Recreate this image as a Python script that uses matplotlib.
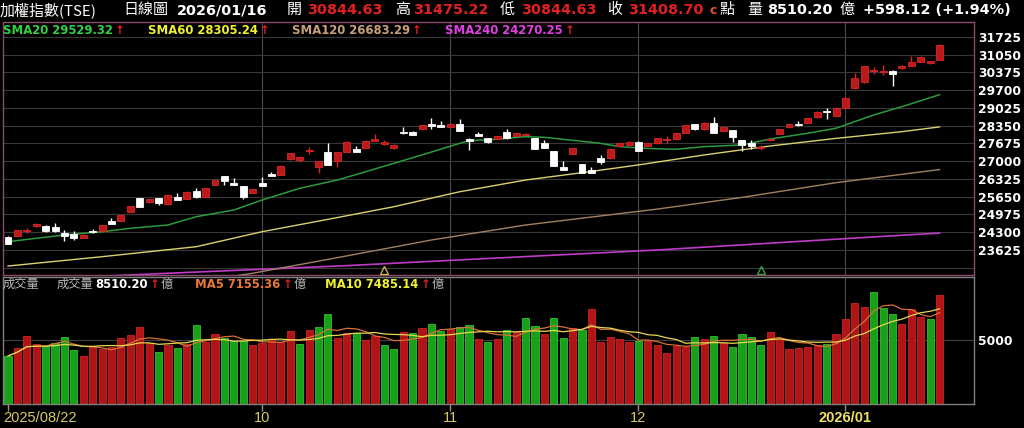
import matplotlib
matplotlib.use("Agg")
import matplotlib.pyplot as plt
import numpy as np
import pandas as pd

# ---------------- data ----------------
opens = [24125, 24160, 24330, 24520, 24540, 24510, 24265, 24230, 24100, 24350,
         24330, 24710, 24745, 25085, 25595, 25440, 25595, 25390, 25635, 25570,
         25885, 25655, 26115, 26440, 26165, 26060, 25810, 26165, 26505, 26480,
         27075, 27045, 27390, 26795, 27365, 27000, 27365, 27470, 27520, 27780,
         27660, 27495, 28115, 28125, 28220, 28430, 28370, 28320, 28420, 27850,
         28025, 27875, 27860, 28100, 27965, 28010, 27875, 27685, 27390, 26785,
         27280, 26900, 26665, 27140, 27115, 27595, 27620, 27745, 27590, 27685,
         27825, 27835, 28090, 28420, 28215, 28445, 28150, 28190, 27810, 27685,
         27495, 27795, 28040, 28290, 28420, 28470, 28670, 28925, 28735, 29040,
         29800, 30000, 30430, 30380, 30445, 30535, 30635, 30790, 30750, 30844.63]
highs = [24140, 24400, 24460, 24640, 24560, 24670, 24385, 24360, 24220, 24440,
         24580, 24830, 24970, 25310, 25610, 25580, 25610, 25720, 25780, 25855,
         26000, 25985, 26290, 26450, 26375, 26070, 25945, 26400, 26580, 26845,
         27315, 27185, 27550, 27010, 27685, 27355, 27760, 27590, 27795, 28030,
         27800, 27640, 28290, 28140, 28395, 28640, 28540, 28440, 28610, 27870,
         28115, 27890, 27970, 28225, 28085, 28080, 27880, 27815, 27400, 26995,
         27500, 26910, 26790, 27220, 27465, 27695, 27755, 27760, 27700, 27885,
         27950, 28075, 28390, 28430, 28480, 28670, 28305, 28200, 27820, 27825,
         27600, 27850, 28225, 28430, 28520, 28655, 28895, 29025, 29050, 29430,
         30355, 30640, 30600, 30660, 30460, 30645, 30990, 30985, 30820, 31475.22]
lows = [23840, 24140, 24280, 24500, 24320, 24320, 23985, 23990, 24080, 24280,
        24320, 24620, 24730, 25070, 25270, 25420, 25320, 25380, 25520, 25560,
        25620, 25640, 26100, 26100, 26090, 25550, 25800, 26050, 26430, 26470,
        27060, 26990, 27280, 26570, 26850, 26800, 27350, 27355, 27510, 27770,
        27620, 27480, 28050, 27990, 28210, 28210, 28310, 28300, 28160, 27425,
        27960, 27710, 27850, 27860, 27950, 27990, 27460, 27510, 26830, 26650,
        27270, 26540, 26555, 26880, 27100, 27580, 27600, 27380, 27570, 27670,
        27710, 27825, 28080, 28200, 28200, 28060, 28140, 27740, 27395, 27470,
        27430, 27780, 28030, 28280, 28340, 28460, 28660, 28600, 28720, 29030,
        29790, 29990, 30325, 30280, 29860, 30520, 30620, 30780, 30700, 30844.63]
closes = [23850, 24390, 24380, 24620, 24330, 24330, 24165, 24100, 24200, 24300,
          24570, 24630, 24960, 25300, 25275, 25565, 25430, 25710, 25530, 25845,
          25635, 25975, 26280, 26265, 26100, 25655, 25935, 26060, 26440, 26835,
          27305, 27175, 27420, 27000, 26860, 27345, 27745, 27365, 27785, 27835,
          27745, 27630, 28065, 28000, 28385, 28355, 28320, 28420, 28165, 27785,
          27975, 27725, 27960, 27875, 28075, 28050, 27470, 27520, 26835, 26660,
          27495, 26545, 26565, 26965, 27455, 27685, 27745, 27390, 27690, 27875,
          27860, 28065, 28380, 28215, 28470, 28065, 28295, 27935, 27620, 27580,
          27560, 27840, 28215, 28420, 28380, 28645, 28885, 28870, 29040, 29420,
          30155, 30625, 30470, 30435, 30320, 30635, 30760, 30975, 30810.58, 31408.70]
volumes = [3750, 4350, 5310, 4660, 4530, 4740, 5230, 4220, 3775, 4425,
           4295, 4475, 5130, 5390, 6040, 4790, 4085, 4610, 4400, 4660,
           6170, 4870, 5440, 5130, 4920, 4920, 4610, 4740, 5000, 4815,
           5730, 4685, 5780, 6040, 7010, 5180, 5570, 5520, 5000, 5310,
           4610, 4320, 5600, 5520, 5910, 6250, 5730, 5830, 5985, 6145,
           5075, 4815, 5075, 5780, 5650, 6690, 6065, 5465, 6715, 5130,
           5910, 5805, 7420, 4870, 5205, 5075, 4870, 4920, 4920, 4580,
           4010, 4530, 4480, 5205, 5075, 5335, 4790, 4480, 5465, 5205,
           4610, 5650, 5050, 4320, 4375, 4425, 4610, 4660, 5465, 6640,
           7915, 7550, 8720, 7500, 7000, 6220, 7420, 6820, 6640, 8510.20]
vol_up = [0, 1, 1, 1, 0, 0, 0, 0, 1, 1,
          1, 1, 1, 1, 1, 1, 0, 1, 0, 1,
          0, 1, 1, 0, 0, 0, 1, 1, 1, 1,
          1, 0, 1, 0, 0, 1, 1, 0, 1, 1,
          0, 0, 1, 0, 1, 0, 0, 1, 0, 0,
          1, 0, 1, 0, 1, 0, 0, 1, 0, 0,
          1, 0, 1, 1, 1, 1, 1, 0, 1, 1,
          1, 1, 1, 0, 1, 0, 1, 0, 0, 0,
          0, 1, 1, 1, 1, 1, 1, 0, 1, 1,
          1, 1, 0, 0, 0, 1, 1, 1, 0, 1]

sma20_idx = [0, 3, 6, 10, 13, 17, 20, 24, 27, 31, 35, 38, 41, 45, 48, 49, 52, 55, 57, 59,
             63, 65, 68, 71, 74, 78, 81, 85, 88, 92, 95, 99]
sma20_val = [23940, 24070, 24195, 24320, 24450, 24575, 24890, 25145, 25525, 25970, 26285,
             26600, 26920, 27350, 27680, 27780, 27835, 27935, 27910, 27835, 27680, 27555,
             27485, 27455, 27555, 27620, 27845, 28065, 28255, 28760, 29075, 29529.32]
sma60_idx = [0, 10, 20, 27, 34, 41, 48, 55, 61, 67, 74, 81, 88, 95, 99]
sma60_val = [23015, 23370, 23750, 24320, 24790, 25270, 25840, 26285, 26565, 26860, 27240,
             27580, 27870, 28125, 28305.24]
sma120_idx = [0, 26, 36, 45, 55, 69, 78, 88, 99]
sma120_val = [21400, 22740, 23400, 24005, 24575, 25180, 25625, 26185, 26683.29]
sma240_idx = [0, 17, 36, 52, 69, 84, 99]
sma240_val = [22470, 22740, 23030, 23320, 23625, 23950, 24270.25]

month_idx = [0, 27, 47, 67, 89]
month_labels = ["2025/08/22", "10", "11", "12", "2026/01"]
price_ticks = list(range(23625, 31726, 675))
mark_idx = [40, 80]
mark_cols = ['#c8b048', '#3aa040']

# ---------------- figure ----------------
W, H = 1024, 428
fig = plt.figure(figsize=(W / 100, H / 100), dpi=100, facecolor='black')
renderer = fig.canvas.get_renderer()


def fr(x0, y0, x1, y1):
    return [x0 / W, 1 - y1 / H, (x1 - x0) / W, (y1 - y0) / H]


axp = fig.add_axes(fr(3, 22, 974, 275))
axv = fig.add_axes(fr(3, 277, 974, 404))
n = len(closes)
x = np.arange(n)
XL = (-0.53, 102.66)

for ax, sc in ((axp, '#8a4a6a'), (axv, '#808080')):
    ax.set_facecolor('black')
    ax.set_xlim(*XL)
    for s in ax.spines.values():
        s.set_color(sc)
        s.set_linewidth(1)
    for mi in month_idx[1:]:
        ax.axvline(mi, color='#4a4a4a', lw=0.8, zorder=0)

# price panel
axp.set_ylim(22674, 32295)
for v in range(22950, 32401, 675):
    axp.axhline(v, color='#383838', lw=0.8, zorder=0)
axp.yaxis.tick_right()
axp.set_yticks(price_ticks)
axp.set_yticklabels([str(v) for v in price_ticks], color='white', fontsize=8.8,
                    fontweight='bold', family='DejaVu Sans')
axp.tick_params(axis='y', length=0, pad=3)
axp.set_xticks([])

axp.plot(sma240_idx, sma240_val, color='#c03cc8', lw=1.2, zorder=2)
axp.plot(sma120_idx, sma120_val, color='#a08262', lw=1.0, zorder=2)
axp.plot(sma60_idx, sma60_val, color='#dcd070', lw=1.0, zorder=2)
axp.plot(sma20_idx, sma20_val, color='#2e9a3e', lw=1.1, zorder=2)

o = np.array(opens, float)
c = np.array(closes, float)
hi = np.array(highs, float)
lo = np.array(lows, float)
up = c >= o
ccol = np.where(up, '#bc1a1a', '#ffffff')
ecol = np.where(up, '#dc2626', '#ffffff')
axp.vlines(x, lo, hi, colors=ecol, lw=1.0, zorder=3)
axp.bar(x, np.maximum(np.abs(c - o), 28), 0.74, bottom=np.minimum(o, c),
        color=ccol, edgecolor=ecol, lw=0.6, zorder=4)

for mi, mc in zip(mark_idx, mark_cols):
    axp.plot([mi], [22850], marker='^', ms=6, mfc='none', mec=mc, mew=1.0, zorder=5)

# volume panel
vols = np.array(volumes, float)
axv.set_ylim(0, 9919)
axv.axhline(5000, color='#404040', lw=0.8, zorder=0)
vu = np.array(vol_up, bool)
axv.bar(x, vols, 0.76, color=np.where(vu, '#b01414', '#18a018'),
        edgecolor=np.where(vu, '#d02222', '#30c030'), lw=0.6, zorder=2)
ma5 = pd.Series(vols).rolling(5, min_periods=1).mean()
ma10 = pd.Series(vols).rolling(10, min_periods=1).mean()
axv.plot(x, ma5, color='#d8703a', lw=0.9, zorder=3)
axv.plot(x, ma10, color='#e8d850', lw=0.9, zorder=3)
axv.yaxis.tick_right()
axv.set_yticks([5000])
axv.set_yticklabels(['5000'], color='white', fontsize=8.8, fontweight='bold',
                    family='DejaVu Sans')
axv.tick_params(axis='y', length=0, pad=3)
axv.set_xticks(month_idx)
axv.set_xticklabels([''] * len(month_idx))
axv.tick_params(axis='x', length=5, color='#909090', width=1)


def t(xp, yp, s, color, size, weight='normal', cjk=False, ha='left', fam=None):
    if fam is None:
        fam = ['Noto Sans CJK TC', 'DejaVu Sans'] if cjk else ['DejaVu Sans', 'Noto Sans CJK TC']
    tx = fig.text(xp / W, 1 - yp / H, s, color=color, fontsize=size, fontweight=weight,
                  family=fam, ha=ha, va='center')
    return tx


def right_end(tx):
    bb = tx.get_window_extent(renderer=renderer)
    return bb.x1


RED = '#e02020'
WH = '#ffffff'
# header
hy = 10
t(0, hy, "加權指數(TSE)", WH, 10.8, cjk=True)
t(123, hy, "日線圖", WH, 10.8, cjk=True)
t(177, hy, "2026/01/16", WH, 10.4, 'bold')
t(287, hy, "開", WH, 10.8, cjk=True)
t(307, hy, f"{opens[-1]:.2f}", RED, 10.4, 'bold')
t(395, hy, "高", WH, 10.8, cjk=True)
t(413, hy, f"{highs[-1]:.2f}", RED, 10.4, 'bold')
t(500, hy, "低", WH, 10.8, cjk=True)
t(521, hy, f"{lows[-1]:.2f}", RED, 10.4, 'bold')
t(607, hy, "收", WH, 10.8, cjk=True)
t(628, hy, f"{closes[-1]:.2f}", RED, 10.4, 'bold')
t(709, hy + 1, "c", '#e05030', 9, 'bold')
t(720, hy, "點", WH, 10.8, cjk=True)
t(747, hy, "量", WH, 10.8, cjk=True)
t(767, hy, f"{volumes[-1]:.2f}", WH, 10.4, 'bold')
t(840, hy, "億", WH, 10.8, cjk=True)
chg = closes[-1] - closes[-2]
t(863, hy, f"+{chg:.2f} (+{chg / closes[-2] * 100:.2f}%)", WH, 10.4, 'bold')

# price legend
ly = 30
for xs, lab, col in ((3, f"SMA20 {sma20_val[-1]:.2f}", '#30d040'),
                     (148, f"SMA60 {sma60_val[-1]:.2f}", '#f0f030'),
                     (292, f"SMA120 {sma120_val[-1]:.2f}", '#c8a078'),
                     (445, f"SMA240 {sma240_val[-1]:.2f}", '#e040e0')):
    tx = t(xs, ly, lab, col, 8.4, 'bold')
    t(right_end(tx) + 2, ly, "↑", RED, 8.5, 'bold')

# volume legend
vy = 284
GR = '#b8b8b8'
t(3, vy, "成交量", GR, 8.8, cjk=True)
t(57, vy, "成交量", GR, 8.8, cjk=True)
for xs, lab, col in ((95, f"{volumes[-1]:.2f}", WH),
                     (195, "MA5 7155.36", '#e8783a'),
                     (325, "MA10 7485.14", '#f0f030')):
    tx = t(xs, vy, lab, col, 8.4, 'bold')
    ax_ = t(right_end(tx) + 2, vy, "↑", RED, 8.5, 'bold')
    t(right_end(ax_) + 1, vy, "億", GR, 8.8, cjk=True)

# x labels
lib = ['Liberation Sans', 'DejaVu Sans']
for k, (mi, lab) in enumerate(zip(month_idx, month_labels)):
    xp = 8 + 9.41 * mi
    if k == 0:
        t(3, 418, lab, '#d8c860', 10.5, fam=lib)
    elif lab.startswith('2026'):
        t(xp, 418, lab, '#f0e060', 10.5, 'bold', ha='center', fam=lib)
    else:
        t(xp, 418, lab, '#d8c860', 10.5, ha='center', fam=lib)

fig.savefig('out.png', dpi=100, facecolor='black')
